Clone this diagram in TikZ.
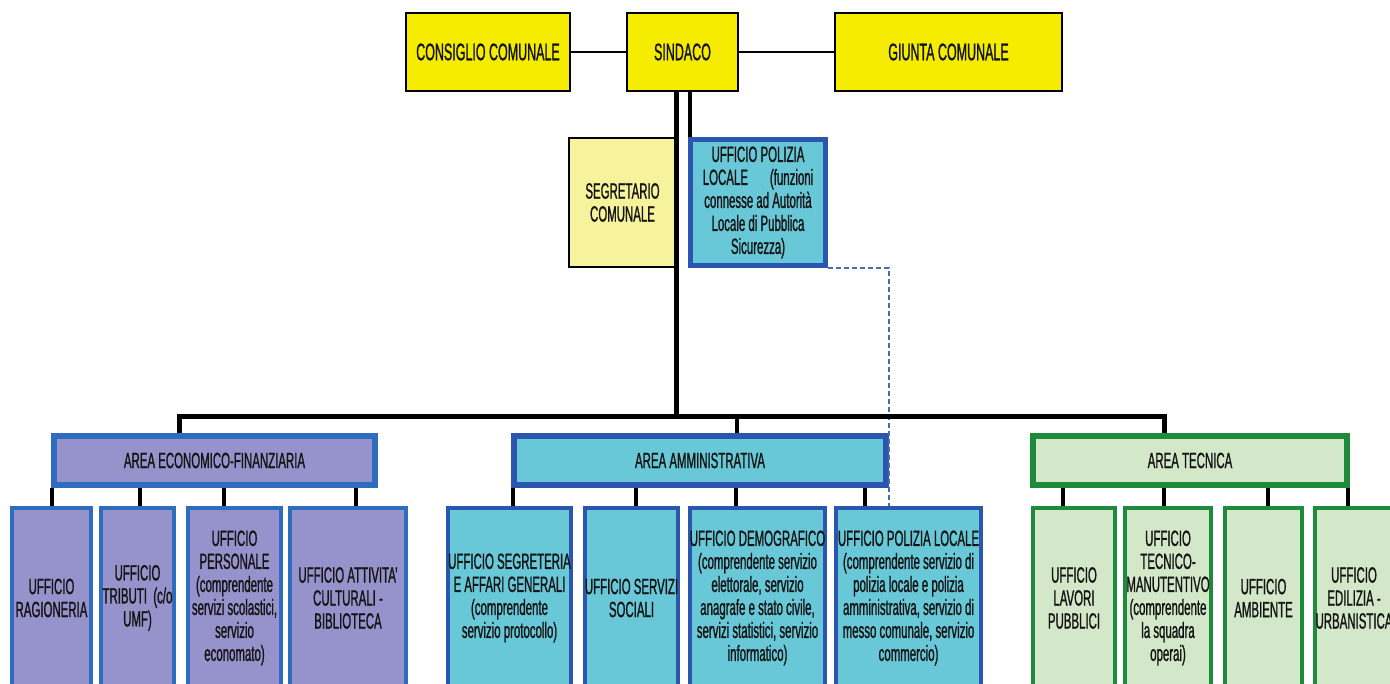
\documentclass[tikz,border=0pt]{standalone}
\usepackage{fontspec}
\setmainfont{Liberation Sans}[FakeStretch=0.52, FakeBold=1.0]
\definecolor{yel}{HTML}{F5EC00}
\definecolor{paleyel}{HTML}{F7F29C}
\definecolor{cyanF}{HTML}{68C8D8}
\definecolor{blueB}{HTML}{2A56B0}
\definecolor{purpF}{HTML}{9692CB}
\definecolor{purpB}{HTML}{2E6CC0}
\definecolor{greenF}{HTML}{D3E8C8}
\definecolor{greenB}{HTML}{1E8A3C}
\definecolor{dashC}{HTML}{5068B0}
\definecolor{txtC}{HTML}{141414}
\tikzset{
  base/.style={font=\fontsize{11}{11.5}\selectfont, text=txtC, align=center, inner sep=0pt},
  topbox/.style={base, font=\fontsize{12}{12}\selectfont, draw=black, line width=0.6pt, fill=yel, minimum height=39pt},
  segbox/.style={base, draw=black, line width=0.6pt, fill=paleyel},
  polbox/.style={base, draw=blueB, line width=2.5pt, fill=cyanF},
  areabox/.style={base, line width=3pt, minimum height=24.5pt},
  childbox/.style={base, line width=2pt, minimum height=90pt},
  ecoC/.style={draw=purpB, fill=purpF},
  ammC/.style={draw=blueB, fill=cyanF},
  tecC/.style={draw=greenB, fill=greenF},
  thinline/.style={black, line width=1pt},
  busline/.style={black, line width=2.5pt},
  connline/.style={black, line width=2pt},
  dashline/.style={dashC, line width=0.8pt, dash pattern=on 2.5pt off 1.5pt}
}
\begin{document}
\begin{tikzpicture}[x=0.5pt, y=-0.5pt]
\useasboundingbox (0,0) rectangle (1390,684);
\fill[white] (0,0) rectangle (1390,684);

% top row
\node[topbox, minimum width=82pt] (cons) at (488,52) {CONSIGLIO COMUNALE};
\node[topbox, minimum width=55.5pt] (sind) at (682.5,52) {SINDACO};
\node[topbox, minimum width=113.5pt] (giunta) at (948.5,52) {GIUNTA COMUNALE};
\draw[thinline] (cons) -- (sind);
\draw[thinline] (sind) -- (giunta);

% staff
\node[segbox, minimum width=53.5pt, minimum height=64.5pt] (segr) at (622.5,202.5) {SEGRETARIO\\COMUNALE};
\node[polbox, minimum width=67.5pt, minimum height=63pt] (polT) at (758,202.5)
  {UFFICIO POLIZIA\\LOCALE\quad(funzioni\\connesse ad Autorità\\Locale di Pubblica\\Sicurezza)};

% areas
\node[areabox, ecoC, minimum width=160.5pt] (areaE) at (214.5,460.5) {AREA ECONOMICO-FINANZIARIA};
\node[areabox, ammC, minimum width=186pt] (areaA) at (700,460.5) {AREA AMMINISTRATIVA};
\node[areabox, tecC, minimum width=157pt] (areaT) at (1190,460.5) {AREA TECNICA};

% children
\node[childbox, ecoC, minimum width=39.5pt] (rag) at (51.5,598) {UFFICIO\\RAGIONERIA};
\node[childbox, ecoC, minimum width=36.5pt] (trib) at (137.5,598) {UFFICIO\\TRIBUTI\ \ (c/o\\UMF)};
\node[childbox, ecoC, minimum width=46.5pt] (pers) at (234.5,598) {UFFICIO\\PERSONALE\\(comprendente\\servizi scolastici,\\servizio\\economato)};
\node[childbox, ecoC, minimum width=58pt] (att) at (348,598) {UFFICIO ATTIVITA'\\CULTURALI -\\BIBLIOTECA};

\node[childbox, ammC, minimum width=58.5pt] (segC) at (509.5,598) {UFFICIO SEGRETERIA\\E AFFARI GENERALI\\(comprendente\\servizio protocollo)};
\node[childbox, ammC, minimum width=43.5pt] (soc) at (631.5,598) {UFFICIO SERVIZI\\SOCIALI};
\node[childbox, ammC, minimum width=67.5pt] (demo) at (757.5,598) {UFFICIO DEMOGRAFICO\\(comprendente servizio\\elettorale, servizio\\anagrafe e stato civile,\\servizi statistici, servizio\\informatico)};
\node[childbox, ammC, minimum width=72.5pt] (polC) at (908.5,598) {UFFICIO POLIZIA LOCALE\\(comprendente servizio di\\polizia locale e polizia\\amministrativa, servizio di\\messo comunale, servizio\\commercio)};

\node[childbox, tecC, minimum width=41pt] (lav) at (1074,598) {UFFICIO\\LAVORI\\PUBBLICI};
\node[childbox, tecC, minimum width=43pt] (tecn) at (1168,598) {UFFICIO\\TECNICO-\\MANUTENTIVO\\(comprendente\\la squadra\\operai)};
\node[childbox, tecC, minimum width=38.5pt] (amb) at (1263.5,598) {UFFICIO\\AMBIENTE};
\node[childbox, tecC, minimum width=39pt] (edil) at (1354,598) {UFFICIO\\EDILIZIA -\\URBANISTICA};

% bus
\coordinate (busM) at (676,416.5);
\coordinate (busL) at (179,416.5);
\coordinate (busR) at (1164,416.5);
\coordinate (busA) at (736.5,416.5);
\coordinate (pk) at (689.5,0);
\draw[busline] (sind.south -| busM) -- (busM);
\draw[connline] (sind.south -| pk) -- (polT.north -| pk);
\draw[dashline] (polT.south east) -| (polC.north -| areaA.east);
\draw[busline] (busL) -- (busR);
\draw[busline] ([yshift=1.25pt]busL) -- (busL |- areaE.north);
\draw[connline] (busA) -- (busA |- areaA.north);
\draw[busline] ([yshift=1.25pt]busR) -- (busR |- areaT.north);

% child connectors
\foreach \xx/\ch/\ar in {52/rag/areaE, 140/trib/areaE, 224/pers/areaE, 356/att/areaE,
  513/segC/areaA, 636/soc/areaA, 736/demo/areaA, 865/polC/areaA,
  1063/lav/areaT, 1164/tecn/areaT, 1268/amb/areaT, 1348/edil/areaT}{
  \coordinate (cx) at (\xx,0);
  \draw[connline] (\ar.south -| cx) -- (\ch.north -| cx);
}
\end{tikzpicture}
\end{document}
